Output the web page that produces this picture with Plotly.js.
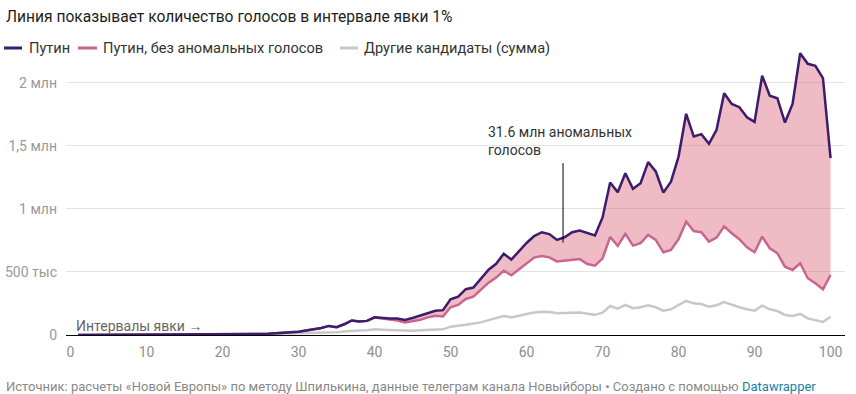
<!DOCTYPE html>
<html>
<head>
<meta charset="utf-8">
<script src="https://cdn.plot.ly/plotly-3.0.1.min.js"></script>
<style>
  html, body { margin: 0; padding: 0; background: #fff; }
  #chart { width: 856px; height: 394px; }
</style>
</head>
<body>
<div id="chart"></div>
<script>
// Turnout interval (%)
var turnout = [1,2,3,4,5,6,7,8,9,10,11,12,13,14,15,16,17,18,19,20,
  21,22,23,24,25,26,27,28,29,30,31,32,33,34,35,36,37,38,39,40,
  41,42,43,44,45,46,47,48,49,50,51,52,53,54,55,56,57,58,59,60,
  61,62,63,64,65,66,67,68,69,70,71,72,73,74,75,76,77,78,79,80,
  81,82,83,84,85,86,87,88,89,90,91,92,93,94,95,96,97,98,99,100];

// Putin votes
var putin = [300,400,500,600,700,800,900,1000,1100,1300,
  1400,1600,1800,2000,2200,2500,2800,3100,3500,4000,
  4500,5000,6000,7000,8000,10000,13000,18000,22000,26000,
  35000,45000,55000,72000,62000,85000,115000,108000,112000,140000,
  133000,131000,130000,119000,135000,153000,172000,192000,197000,283000,
  304000,363000,376000,445000,518000,565000,645000,598000,665000,730000,
  785000,815000,800000,754000,775000,815000,828000,807000,790000,932000,
  1209000,1132000,1283000,1159000,1204000,1371000,1297000,1129000,1216000,1415000,
  1754000,1574000,1593000,1516000,1627000,1918000,1833000,1807000,1727000,1690000,
  2056000,1897000,1878000,1685000,1833000,2235000,2151000,2135000,2037000,1402000];

// Putin votes without anomalous votes
var putinClean = [300,400,500,600,700,800,900,1000,1100,1300,
  1400,1600,1800,2000,2200,2500,2800,3100,3500,4000,
  4500,5000,6000,7000,8000,10000,13000,18000,22000,26000,
  35000,45000,55000,72000,62000,85000,115000,108000,112000,138000,
  130000,125000,115000,100000,110000,120000,140000,152000,147000,220000,
  238000,286000,304000,363000,415000,455000,510000,474000,521000,574000,
  614000,627000,616000,584000,590000,595000,602000,563000,550000,608000,
  778000,706000,802000,709000,728000,794000,754000,656000,675000,760000,
  899000,825000,815000,741000,772000,862000,807000,760000,696000,656000,
  780000,688000,648000,542000,516000,569000,450000,410000,363000,476000];

// Other candidates (sum)
var others = [200,300,400,500,600,700,800,900,1000,1100,
  1200,1400,1600,1800,2000,2300,2600,3000,3400,3800,
  4300,4800,5500,6200,7000,8000,9000,10000,11000,12000,
  14000,15000,17000,18000,22000,28000,34000,35000,38000,45000,
  42000,40000,36000,32000,34000,38000,42000,44000,45000,66000,
  72000,82000,92000,100000,118000,135000,151000,140000,155000,167000,
  178000,185000,182000,172000,175000,177000,178000,168000,160000,177000,
  230000,209000,238000,212000,220000,236000,220000,193000,204000,238000,
  270000,251000,246000,225000,236000,262000,238000,220000,204000,193000,
  232000,204000,190000,159000,151000,167000,132000,119000,103000,145000];

var yTickVals = [0, 500000, 1000000, 1500000, 2000000];
var yTickText = ['0', '500 тыс', '1 млн', '1,5 млн', '2 млн'];
var xTickVals = [0,10,20,30,40,50,60,70,80,90,100];

var titleText = 'Линия показывает количество голосов в интервале явки 1%';
var legendNames = ['Путин', 'Путин, без аномальных голосов', 'Другие кандидаты (сумма)'];
var noteText = '31.6 млн аномальных<br>голосов';
var axisNote = 'Интервалы явки →';
var sourceText = 'Источник: расчеты «Новой Европы» по методу Шпилькина, данные телеграм канала Новыйборы • Создано с помощью <span style="color:#1d81a2">Datawrapper</span>';

var cPutin = '#3c1c6c';
var cClean = '#c9658f';
var cOther = '#c8c8c8';
var FONT = 'Roboto, "Noto Sans", sans-serif';

var traces = [
  { x: turnout, y: others, type: 'scatter', mode: 'lines', name: legendNames[2],
    line: { color: cOther, width: 2.5 }, hoverinfo: 'skip' },
  { x: turnout, y: putinClean, type: 'scatter', mode: 'lines', name: legendNames[1],
    line: { color: cClean, width: 2.5 }, hoverinfo: 'skip' },
  { x: turnout, y: putin, type: 'scatter', mode: 'lines', name: legendNames[0],
    fill: 'tonexty', fillcolor: 'rgba(216,84,108,0.40)',
    line: { color: cPutin, width: 2.5 }, hoverinfo: 'skip' }
];

// pixel helpers for paper coords (plot area: x 66..845, y 45..335)
function px(x) { return (x - 66) / 779; }
function py(y) { return (335 - y) / 290; }

var legendItems = [
  { x0: 4, x1: 22, tx: 27, color: cPutin, text: legendNames[0] },
  { x0: 78, x1: 97, tx: 101, color: cClean, text: legendNames[1] },
  { x0: 340, x1: 358, tx: 362, color: cOther, text: legendNames[2] }
];

var shapes = [
  { type: 'line', xref: 'x', yref: 'y', x0: 64.8, x1: 64.8, y0: 733000, y1: 1363000,
    line: { color: '#000', width: 1 } }
];
var annotations = [
  { xref: 'paper', yref: 'paper', x: px(4), y: py(17), xanchor: 'left', yanchor: 'middle',
    text: titleText, showarrow: false, font: { family: FONT, size: 15.6, color: '#1d1d1d' } },
  { xref: 'x', yref: 'y', x: 54.7, y: (335 - 141) * 7931, xanchor: 'left', yanchor: 'middle',
    text: noteText, showarrow: false, align: 'left',
    font: { family: FONT, size: 14, color: '#333' } },
  { xref: 'x', yref: 'y', x: 0.5, y: 70000, xanchor: 'left', yanchor: 'middle',
    text: axisNote, showarrow: false, font: { family: FONT, size: 14, color: '#666' } },
  { xref: 'paper', yref: 'paper', x: px(4), y: py(386), xanchor: 'left', yanchor: 'middle',
    text: sourceText, showarrow: false, font: { family: FONT, size: 13, color: '#888' } }
];
legendItems.forEach(function (it) {
  shapes.push({ type: 'line', xref: 'paper', yref: 'paper', x0: px(it.x0), x1: px(it.x1),
    y0: py(48), y1: py(48), line: { color: it.color, width: 3 } });
  annotations.push({ xref: 'paper', yref: 'paper', x: px(it.tx), y: py(48),
    xanchor: 'left', yanchor: 'middle', text: it.text, showarrow: false,
    font: { family: FONT, size: 14.6, color: '#333' } });
});

var layout = {
  width: 856, height: 394,
  margin: { l: 66, r: 11, t: 45, b: 59, pad: 0 },
  paper_bgcolor: '#fff', plot_bgcolor: '#fff',
  showlegend: false,
  font: { family: FONT, size: 14, color: '#999' },
  xaxis: {
    range: [-0.6, 101.9], tickvals: xTickVals, ticks: '', showgrid: false,
    zeroline: false, showline: true, linecolor: '#000', linewidth: 1,
    tickfont: { family: FONT, size: 14, color: '#8f8f8f' }, ticklabelstandoff: 4,
    fixedrange: true
  },
  yaxis: {
    range: [0, 2300000], tickvals: yTickVals, ticktext: yTickText, ticks: '',
    showgrid: true, gridcolor: '#e3e3e3', gridwidth: 1, zeroline: false,
    tickfont: { family: FONT, size: 14, color: '#999' }, ticklabelstandoff: 8,
    fixedrange: true
  },
  shapes: shapes,
  annotations: annotations
};

Plotly.newPlot('chart', traces, layout, { displayModeBar: false, staticPlot: true });
</script>
</body>
</html>
